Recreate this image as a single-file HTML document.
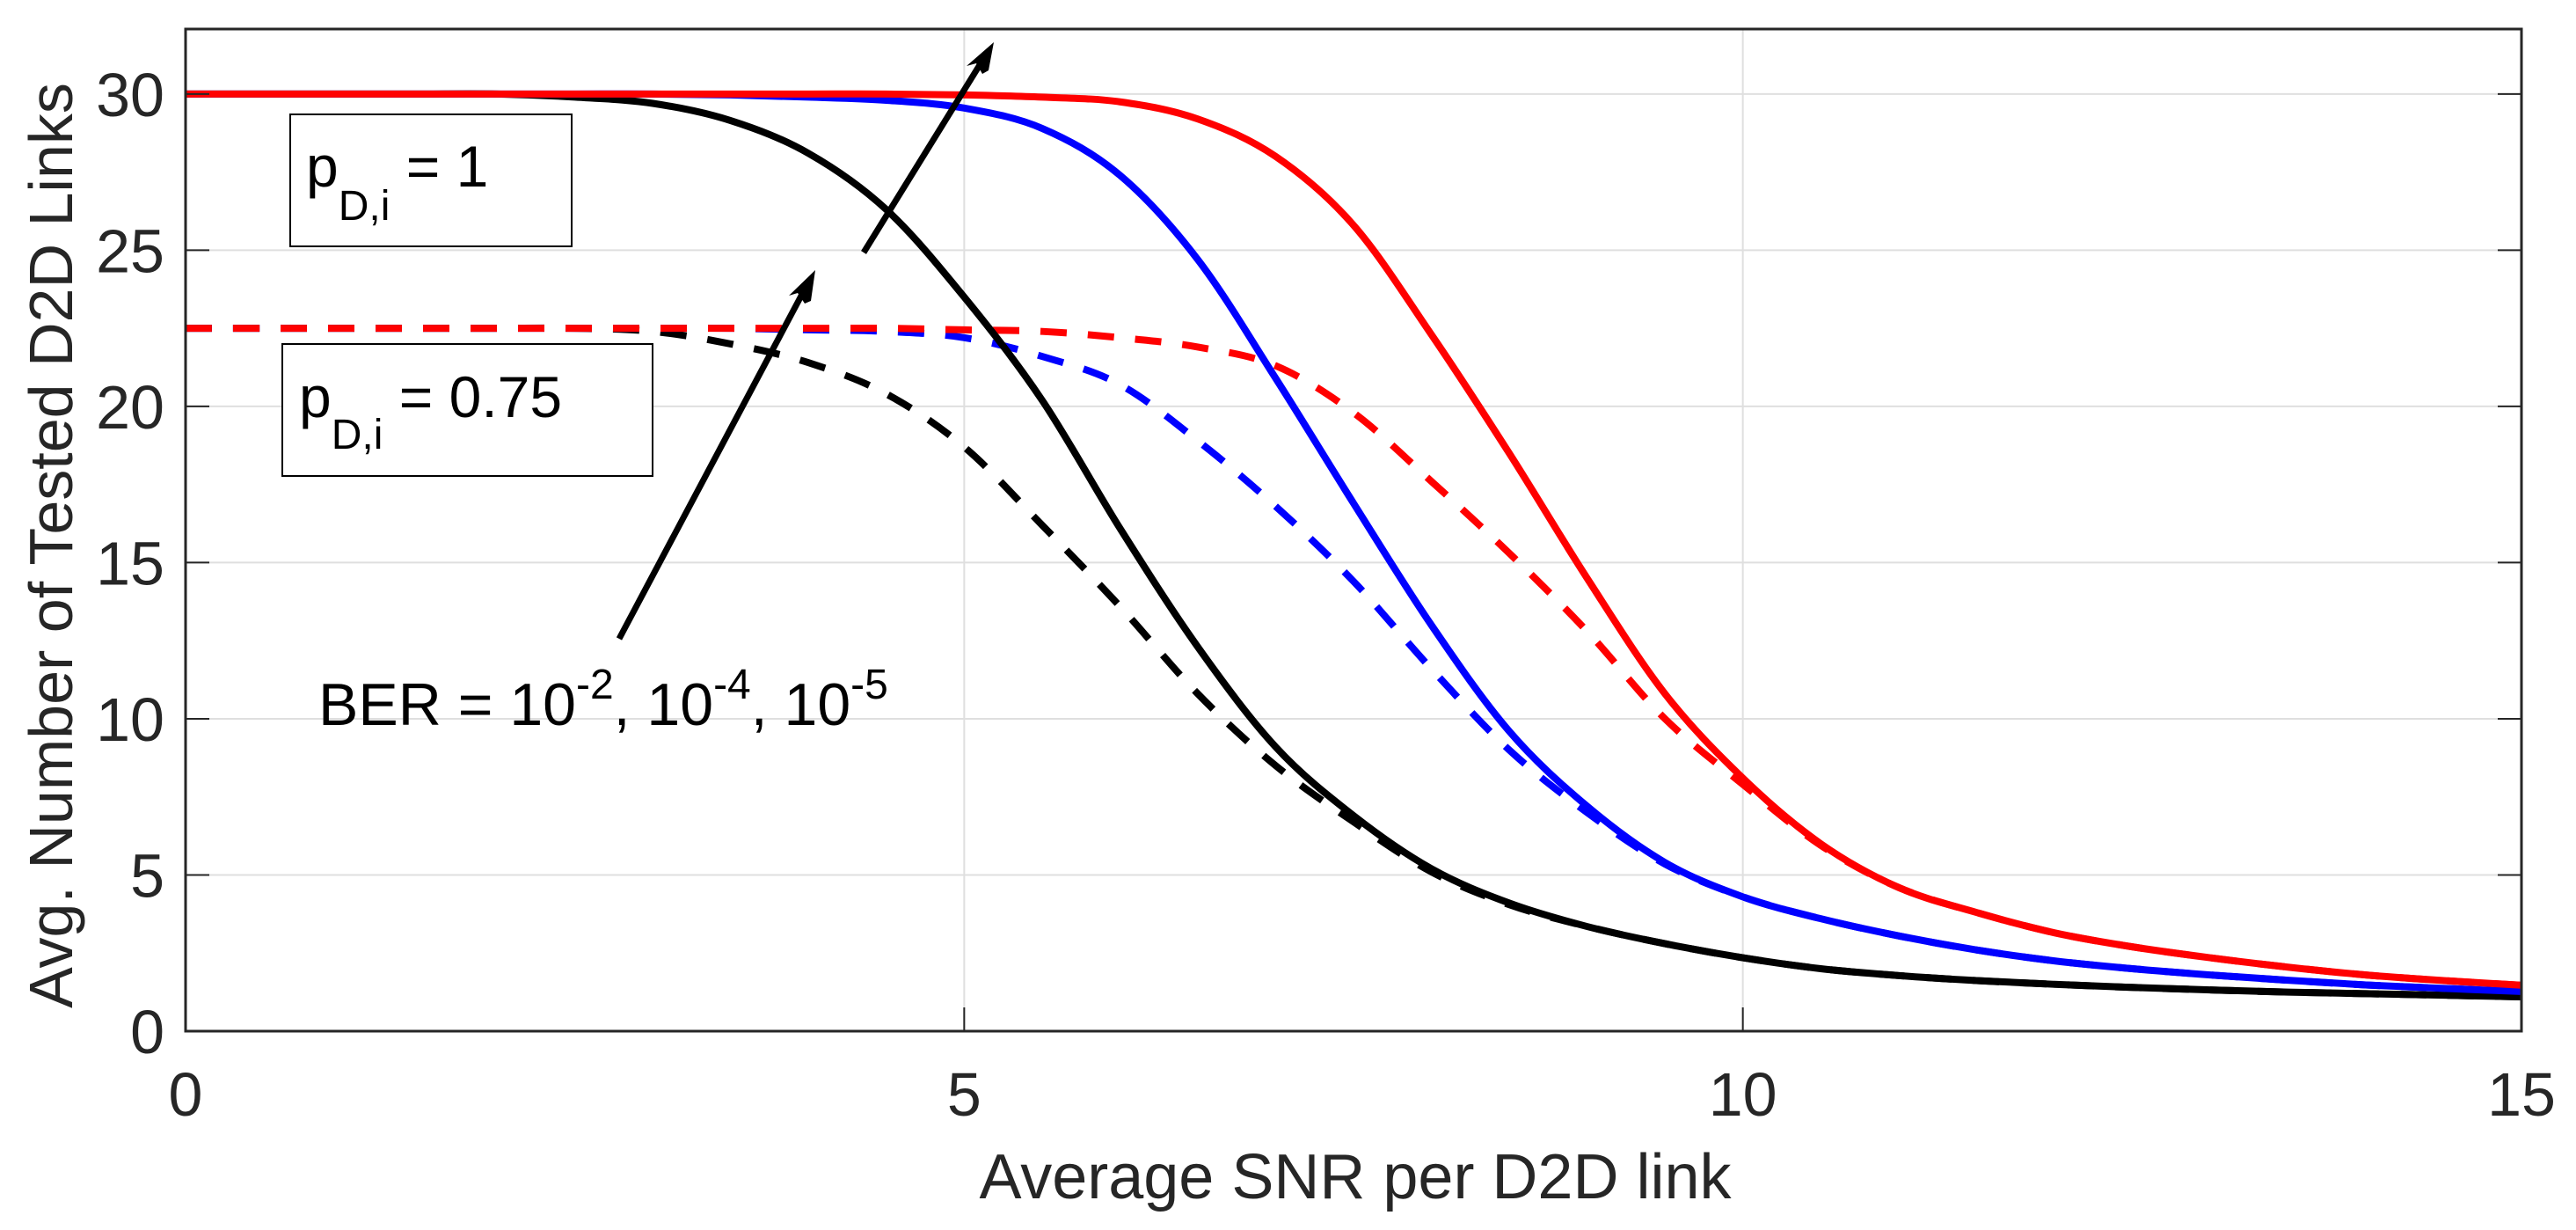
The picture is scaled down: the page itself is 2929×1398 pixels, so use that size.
<!DOCTYPE html>
<html><head><meta charset="utf-8"><style>
html,body{margin:0;padding:0;background:#fff;}
svg{display:block;font-family:"Liberation Sans",Arial,sans-serif;}
</style></head><body>
<svg id="chart" width="2929" height="1398" viewBox="0 0 2929 1398">
<rect x="0" y="0" width="2929" height="1398" fill="#fff"/>
<g id="grid"></g>
<g id="series"></g>
<g id="axes"></g>
<text x="1541" y="1362" font-size="72" fill="#262626" text-anchor="middle">Average SNR per D2D link</text>
<text transform="translate(82,620) rotate(-90)" font-size="70" fill="#262626" text-anchor="middle">Avg. Number of Tested D2D Links</text>
<g>
<rect x="330" y="130" width="320" height="150" fill="#fff" stroke="#000" stroke-width="2"/>
<text x="348" y="212" font-size="66" fill="#000">p<tspan font-size="48" dy="38">D,i</tspan><tspan dy="-38"> = 1</tspan></text>
</g>
<g>
<rect x="321" y="391" width="421" height="150" fill="#fff" stroke="#000" stroke-width="2"/>
<text x="340" y="474" font-size="66" fill="#000">p<tspan font-size="48" dy="36">D,i</tspan><tspan dy="-36"> = 0.75</tspan></text>
</g>
<text x="362" y="824" font-size="68" fill="#000">BER = 10<tspan font-size="48" dy="-30">-2</tspan><tspan dy="30">, 10</tspan><tspan font-size="48" dy="-30">-4</tspan><tspan dy="30">, 10</tspan><tspan font-size="48" dy="-30">-5</tspan></text>
<g>
<line x1="704" y1="726" x2="918" y2="323" stroke="#000" stroke-width="7"/>
<polygon points="927,307 897,336 907,333 915,345 922,342" fill="#000"/>
</g>
<g>
<line x1="982" y1="287" x2="1120" y2="64" stroke="#000" stroke-width="7"/>
<polygon points="1130,48 1099,75 1110,72 1117,84 1124,80" fill="#000"/>
</g>
</svg>
<script>
const xTicks=[0,5,10,15];
const yTicks=[0,5,10,15,20,25,30];
const snr=[0,0.5,1,1.5,2,2.5,3,3.5,4,4.5,5,5.5,6,6.5,7,7.5,8,8.5,9,9.5,10,10.5,11,11.5,12,12.5,13,13.5,14,14.5,15];
const solidBlack=[30,30,30,30,30,29.9,29.7,29.15,28.1,26.3,23.5,20.2,16.1,12.3,9.1,6.9,5.2,4.1,3.35,2.8,2.35,2.0,1.78,1.62,1.5,1.4,1.32,1.25,1.2,1.15,1.1];
const dashBlack=[22.5,22.5,22.5,22.5,22.5,22.5,22.4,22.0,21.4,20.4,18.7,16.2,13.6,10.8,8.5,6.7,5.1,4.05,3.35,2.8,2.35,2.0,1.78,1.62,1.5,1.4,1.32,1.25,1.2,1.15,1.1];
const solidBlue=[30,30,30,30,30,30,30,29.97,29.9,29.8,29.55,28.9,27.4,24.7,20.9,16.9,13.0,9.6,7.2,5.4,4.3,3.6,3.05,2.6,2.25,2.0,1.8,1.63,1.48,1.37,1.27];
const dashBlue=[22.5,22.5,22.5,22.5,22.5,22.5,22.5,22.5,22.45,22.4,22.2,21.6,20.7,18.9,16.8,14.4,11.6,9.0,7.0,5.35,4.3,3.6,3.05,2.6,2.25,2.0,1.8,1.63,1.48,1.37,1.27];
const solidRed=[30,30,30,30,30,30,30,30,30,30,29.97,29.9,29.75,29.2,28.0,25.8,22.3,18.5,14.5,10.8,8.1,6.0,4.6,3.8,3.15,2.7,2.35,2.05,1.8,1.62,1.47];
const dashRed=[22.5,22.5,22.5,22.5,22.5,22.5,22.5,22.5,22.5,22.5,22.45,22.4,22.2,21.9,21.3,19.8,17.6,15.3,12.8,10.0,7.9,5.95,4.6,3.8,3.15,2.7,2.35,2.05,1.8,1.62,1.47];

const X0=211,X1=2867,Y0=1172,Y1=33,XMAX=15,YMAX=32.08;
function sx(v){return X0+(X1-X0)*v/XMAX;}
function sy(v){return Y0-(Y0-Y1)*v/YMAX;}
const NS='http://www.w3.org/2000/svg';
function mk(tag,attrs,parent){const e=document.createElementNS(NS,tag);for(const k in attrs)e.setAttribute(k,attrs[k]);parent.appendChild(e);return e;}
const grid=document.getElementById('grid'),axes=document.getElementById('axes'),series=document.getElementById('series');
xTicks.forEach(t=>{
 const g=mk('line',{x1:sx(t),x2:sx(t),y1:Y1,y2:Y0,stroke:'#dfdfdf','stroke-width':2},grid);
 
 
 const tk=mk('line',{x1:sx(t),x2:sx(t),y1:Y0,y2:Y0-27,stroke:'#262626','stroke-width':2},axes);
 
 
 const l=mk('text',{x:sx(t),y:1268,'font-size':70,fill:'#262626','text-anchor':'middle'},axes);
 l.textContent=t;
 
 
});
yTicks.forEach(t=>{
 const g=mk('line',{x1:X0,x2:X1,y1:sy(t),y2:sy(t),stroke:'#dfdfdf','stroke-width':2},grid);
 
 
 const tk=mk('line',{x1:X0,x2:X0+27,y1:sy(t),y2:sy(t),stroke:'#262626','stroke-width':2},axes);
 
 
 const tk2=mk('line',{x1:X1,x2:X1-27,y1:sy(t),y2:sy(t),stroke:'#262626','stroke-width':2},axes);
 
 
 const l=mk('text',{x:187,y:sy(t)+25,'font-size':70,fill:'#262626','text-anchor':'end'},axes);
 l.textContent=t;
 
 
});
const box=mk('rect',{x:X0,y:Y1,width:X1-X0,height:Y0-Y1,fill:'none',stroke:'#262626','stroke-width':3},axes);



function pathD(xs,ys){
 const p=xs.map((x,i)=>[sx(x),sy(ys[i])]);
 let d='M'+p[0][0]+','+p[0][1];
 for(let i=0;i<p.length-1;i++){
  const a=p[Math.max(0,i-1)],b=p[i],c=p[i+1],e=p[Math.min(p.length-1,i+2)];
  const c1x=b[0]+(c[0]-a[0])/6,c1y=b[1]+(c[1]-a[1])/6,c2x=c[0]-(e[0]-b[0])/6,c2y=c[1]-(e[1]-b[1])/6;
  d+=' C'+c1x+','+c1y+' '+c2x+','+c2y+' '+c[0]+','+c[1];
 }
 return d;
}
const defs=[
 [dashBlack,'#000',true,'line-dashed-ber-1e-2'],
 [dashBlue,'#0000ff',true,'line-dashed-ber-1e-4'],
 [dashRed,'#ff0000',true,'line-dashed-ber-1e-5'],
 [solidBlack,'#000',false,'line-solid-ber-1e-2'],
 [solidBlue,'#0000ff',false,'line-solid-ber-1e-4'],
 [solidRed,'#ff0000',false,'line-solid-ber-1e-5']
];
defs.forEach(s=>{
 const a={d:pathD(snr,s[0]),fill:'none',stroke:s[1],'stroke-width':8};
 if(s[2])a['stroke-dasharray']='30 24';
 const e=mk('path',a,series);
 
 
});
</script>
</body></html>
